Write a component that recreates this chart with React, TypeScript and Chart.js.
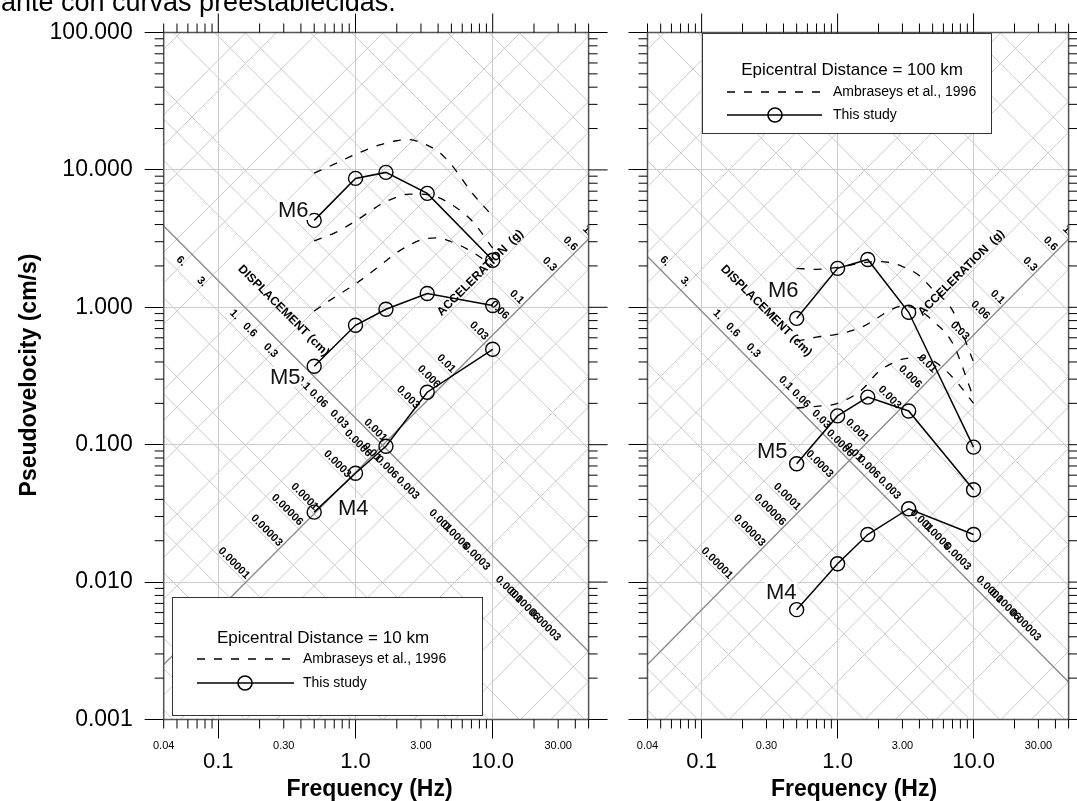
import React, { useEffect, useRef } from "react";
import { Chart, registerables } from "chart.js";

Chart.register(...registerables);

const FONT = '"Liberation Sans", Arial, Helvetica, sans-serif';

// ---------------- data ----------------
// frequencies (Hz)
const studyFreqs = [0.5, 1.0, 1.667, 3.333, 10.0];
const ambraseysFreqs = [0.5, 0.7, 1.0, 1.5, 2.0, 2.5, 3.0, 4.0, 5.0, 7.0, 10.0];

// Epicentral distance = 10 km, pseudovelocity (cm/s)
const study10_M6 = [4.29, 8.67, 9.59, 6.75, 2.2];
const study10_M5 = [0.372, 0.74, 0.967, 1.26, 1.03];
const study10_M4 = [0.0323, 0.062, 0.0975, 0.241, 0.495];
const ambraseys10_upper = [9.46, 11.0, 13.0, 15.2, 16.3, 16.6, 15.8, 13.6, 10.9, 6.9, 4.6];
const ambraseys10_middle = [3.04, 3.47, 4.24, 5.55, 6.34, 6.67, 6.67, 6.3, 5.6, 4.3, 2.7];
const ambraseys10_lower = [0.94, 1.18, 1.48, 2.0, 2.5, 2.85, 3.1, 3.2, 3.0, 2.55, 2.0];

// Epicentral distance = 100 km, pseudovelocity (cm/s)
const study100_M6 = [0.83, 1.92, 2.23, 0.92, 0.096];
const study100_M5 = [0.0726, 0.162, 0.222, 0.176, 0.047];
const study100_M4 = [0.0063, 0.0136, 0.0222, 0.0342, 0.0222];
const ambraseys100_upper = [1.92, 1.89, 1.95, 2.1, 2.15, 2.1, 1.98, 1.7, 1.35, 0.95, 0.4];
const ambraseys100_middle = [0.567, 0.606, 0.637, 0.716, 0.846, 0.967, 1.02, 0.95, 0.8, 0.55, 0.22];
const ambraseys100_lower = [0.185, 0.19, 0.2, 0.25, 0.34, 0.39, 0.42, 0.43, 0.41, 0.31, 0.2];

// ticks / labels
const yTickValues = [0.001, 0.01, 0.1, 1, 10, 100];
const xMajorTickValues = [0.1, 1, 10];
const xSmallLabelValues = [0.04, 0.3, 3, 30];
const xSmallLabelTexts = ["0.04", "0.30", "3.00", "30.00"];
const gridMantissas = [1, 3, 6];
const displacementLabels = ["6.", "3.", "1.", "0.6", "0.3", "0.1", "0.06", "0.03", "0.01", "0.006", "0.003", "0.001", "0.0006", "0.0003", "0.0001", "0.00006", "0.00003"];
const accelerationLabels = ["0.00001", "0.00003", "0.00006", "0.0001", "0.0003", "0.0006", "0.001", "0.003", "0.006", "0.01", "0.03", "0.06", "0.1", "0.3", "0.6", "1."];
const magnitudeLabels = ["M6", "M5", "M4"];

const G_CM = 981;
const TWO_PI = 2 * Math.PI;
const ACCEL_AXIS_DISP = 0.01; // cm
const DISP_LABEL_ACCEL = 0.00077; // g
const DISP_TITLE_AT = [0.299, 0.943];
const ACC_TITLE_AT = [8.13, 1.78];

const PAGE_H = 801;
const AREA_TOP = 32.5;
const AREA_BOTTOM = 719.5;

const panels = [
  {
    key: "d10",
    canvasLeft: 0,
    canvasWidth: 620,
    areaLeft: 163.7,
    areaRight: 588.6,
    showYLabels: true,
    dispAxisAccel: 0.001,
    study: [study10_M6, study10_M5, study10_M4],
    amb: [ambraseys10_upper, ambraseys10_middle, ambraseys10_lower],
    legendTitle: "Epicentral Distance = 10 km",
    legendBox: [172, 597, 310, 118],
    legendRows: [638, 659, 683],
    legendLineX: [197, 294],
    legendCircleX: 245,
    legendTextX: 303,
    legendTitleX: 323,
    mLabelPos: [[278, 210], [270, 377], [338, 508]],
    xTitleX: 369.5,
  },
  {
    key: "d100",
    canvasLeft: 620,
    canvasWidth: 457,
    areaLeft: 647.5,
    areaRight: 1072.5,
    showYLabels: false,
    dispAxisAccel: 0.0006,
    study: [study100_M6, study100_M5, study100_M4],
    amb: [ambraseys100_upper, ambraseys100_middle, ambraseys100_lower],
    legendTitle: "Epicentral Distance = 100 km",
    legendBox: [702, 33, 289, 100],
    legendRows: [70, 92, 115],
    legendLineX: [727, 822],
    legendCircleX: 775,
    legendTextX: 833,
    legendTitleX: 852,
    mLabelPos: [[768, 290], [757, 451], [766, 592]],
    xTitleX: 854,
  },
];

function seg(ctx: any, x1: number, y1: number, x2: number, y2: number) {
  ctx.beginPath();
  ctx.moveTo(x1, y1);
  ctx.lineTo(x2, y2);
  ctx.stroke();
}

function minorValues(eFrom: number, eTo: number, lo: number, hi: number) {
  const out: number[] = [];
  for (let e = eFrom; e <= eTo; e++) {
    for (let m = 2; m <= 9; m++) {
      const v = m * Math.pow(10, e);
      if (v >= lo * 0.999 && v <= hi * 1.001) out.push(v);
    }
  }
  return out;
}

function makePlugin(cfg: any) {
  return {
    id: "tripartite_" + cfg.key,
    beforeDatasetsDraw(chart: any) {
      const { ctx, chartArea: a } = chart;
      const xs = chart.scales.x;
      const ys = chart.scales.y;
      const X = (f: number) => xs.getPixelForValue(f);
      const Y = (v: number) => ys.getPixelForValue(v);
      const fMin = xs.min;
      const fMax = xs.max;
      const dLine = (D: number) => seg(ctx, X(fMin), Y(TWO_PI * fMin * D), X(fMax), Y(TWO_PI * fMax * D));
      const aLine = (A: number) => seg(ctx, X(fMin), Y((A * G_CM) / (TWO_PI * fMin)), X(fMax), Y((A * G_CM) / (TWO_PI * fMax)));

      ctx.save();
      ctx.beginPath();
      ctx.rect(a.left, a.top, a.right - a.left, a.bottom - a.top);
      ctx.clip();

      // tripartite background grid
      ctx.strokeStyle = "#cbcbcb";
      ctx.lineWidth = 1;
      for (let e = -9; e <= 4; e++) {
        for (const m of gridMantissas) {
          const v = m * Math.pow(10, e);
          dLine(v);
          aLine(v);
        }
      }
      // label axes
      ctx.strokeStyle = "#8a8a8a";
      ctx.lineWidth = 1.3;
      aLine(cfg.dispAxisAccel);
      dLine(ACCEL_AXIS_DISP);

      ctx.fillStyle = "#000";
      ctx.font = `bold 11px ${FONT}`;
      displacementLabels.forEach((t) => {
        const D = parseFloat(t);
        const w = Math.sqrt((DISP_LABEL_ACCEL * G_CM) / D);
        const px = X(w / TWO_PI) - 3;
        const py = Y(Math.sqrt(DISP_LABEL_ACCEL * G_CM * D)) - 1;
        ctx.save();
        ctx.translate(px, py);
        ctx.rotate(Math.PI / 4);
        ctx.textAlign = "center";
        ctx.textBaseline = "middle";
        ctx.fillText(t, 0, 0);
        ctx.restore();
      });
      accelerationLabels.forEach((t) => {
        const A = parseFloat(t);
        const w = Math.sqrt((A * G_CM) / ACCEL_AXIS_DISP);
        const px = X(w / TWO_PI);
        const py = Y(Math.sqrt(A * G_CM * ACCEL_AXIS_DISP));
        ctx.save();
        ctx.translate(px, py);
        ctx.rotate(Math.PI / 4);
        ctx.textAlign = "right";
        ctx.textBaseline = "alphabetic";
        ctx.fillText(t, -2, -2.5);
        ctx.restore();
      });

      ctx.font = `bold 12px ${FONT}`;
      ctx.textAlign = "center";
      ctx.textBaseline = "middle";
      ctx.save();
      ctx.translate(X(DISP_TITLE_AT[0]), Y(DISP_TITLE_AT[1]));
      ctx.rotate(Math.PI / 4);
      ctx.fillText("DISPLACEMENT (cm)", 0, 0);
      ctx.restore();
      ctx.save();
      ctx.translate(X(ACC_TITLE_AT[0]), Y(ACC_TITLE_AT[1]));
      ctx.rotate(-Math.PI / 4);
      ctx.fillText("ACCELERATION  (g)", 0, 0);
      ctx.restore();

      ctx.restore();
    },
    afterDatasetsDraw(chart: any) {
      const { ctx, chartArea: a } = chart;
      const xs = chart.scales.x;
      const ys = chart.scales.y;
      const X = (f: number) => xs.getPixelForValue(f);
      const Y = (v: number) => ys.getPixelForValue(v);

      // page-coordinate annotations
      ctx.save();
      ctx.translate(-cfg.canvasLeft, 0);

      // magnitude labels
      ctx.font = `22px ${FONT}`;
      ctx.textAlign = "left";
      ctx.textBaseline = "middle";
      magnitudeLabels.forEach((t, i) => {
        const [lx, ly] = cfg.mLabelPos[i];
        const w = ctx.measureText(t).width;
        ctx.fillStyle = "#fff";
        ctx.fillRect(lx - 1, ly - 10, w + 2, 20);
        ctx.fillStyle = "#111";
        ctx.fillText(t, lx, ly + 1);
      });

      // legend
      const [bx, by, bw, bh] = cfg.legendBox;
      ctx.fillStyle = "#fff";
      ctx.fillRect(bx, by, bw, bh);
      ctx.strokeStyle = "#333";
      ctx.lineWidth = 1;
      ctx.strokeRect(bx + 0.5, by + 0.5, bw, bh);
      ctx.fillStyle = "#000";
      ctx.font = `17px ${FONT}`;
      ctx.textAlign = "center";
      ctx.fillText(cfg.legendTitle, cfg.legendTitleX, cfg.legendRows[0]);
      ctx.strokeStyle = "#000";
      ctx.lineWidth = 1.4;
      ctx.setLineDash([8, 9]);
      seg(ctx, cfg.legendLineX[0], cfg.legendRows[1], cfg.legendLineX[1], cfg.legendRows[1]);
      ctx.setLineDash([]);
      ctx.lineWidth = 1.6;
      seg(ctx, cfg.legendLineX[0], cfg.legendRows[2], cfg.legendLineX[1], cfg.legendRows[2]);
      ctx.beginPath();
      ctx.arc(cfg.legendCircleX, cfg.legendRows[2], 7, 0, Math.PI * 2);
      ctx.stroke();
      ctx.font = `14px ${FONT}`;
      ctx.textAlign = "left";
      ctx.fillText("Ambraseys et al., 1996", cfg.legendTextX, cfg.legendRows[1]);
      ctx.fillText("This study", cfg.legendTextX, cfg.legendRows[2]);

      // axis titles
      ctx.font = `bold 23px ${FONT}`;
      ctx.textAlign = "center";
      ctx.fillText("Frequency (Hz)", cfg.xTitleX, 790);
      if (cfg.showYLabels) {
        ctx.save();
        ctx.translate(30, 375);
        ctx.rotate(-Math.PI / 2);
        ctx.font = `bold 23px ${FONT}`;
        ctx.fillText("Pseudovelocity (cm/s)", 0, 0);
        ctx.restore();
        ctx.font = `27px ${FONT}`;
        ctx.textAlign = "left";
        ctx.textBaseline = "alphabetic";
        ctx.fillText("ante con curvas preestablecidas.", 1, 11);
      }
      ctx.restore();

      // frame
      ctx.save();
      ctx.strokeStyle = "#555";
      ctx.lineWidth = 1.5;
      ctx.strokeRect(a.left, a.top, a.right - a.left, a.bottom - a.top);

      // ticks
      ctx.strokeStyle = "#000";
      ctx.lineWidth = 1;
      const xMinor = minorValues(-2, 1, xs.min, xs.max);
      xMinor.forEach((v) => {
        const p = X(v);
        seg(ctx, p, a.top, p, a.top - 9);
        seg(ctx, p, a.bottom, p, a.bottom + 9);
      });
      xMajorTickValues.forEach((v) => {
        const p = X(v);
        seg(ctx, p, a.top, p, a.top - 19);
      });
      const yMinor = minorValues(-3, 1, ys.min, ys.max);
      yMinor.forEach((v) => {
        const p = Y(v);
        seg(ctx, a.left - 9, p, a.left, p);
        seg(ctx, a.right, p, a.right + 9, p);
      });
      yTickValues.forEach((v) => {
        const p = Y(v);
        seg(ctx, a.right, p, a.right + 19, p);
      });

      // small frequency labels
      ctx.fillStyle = "#000";
      ctx.font = `11px ${FONT}`;
      ctx.textAlign = "center";
      ctx.textBaseline = "middle";
      xSmallLabelValues.forEach((v, i) => {
        ctx.fillText(xSmallLabelTexts[i], X(v), a.bottom + 26.5);
      });
      ctx.restore();
    },
  };
}

function buildDatasets(cfg: any) {
  const ds: any[] = [];
  cfg.amb.forEach((arr: number[]) => {
    ds.push({
      data: ambraseysFreqs.map((f, i) => ({ x: f, y: arr[i] })),
      showLine: true,
      borderColor: "#000",
      borderWidth: 1.3,
      borderDash: [8, 9],
      pointRadius: 0,
      cubicInterpolationMode: "monotone",
      fill: false,
    });
  });
  cfg.study.forEach((arr: number[]) => {
    ds.push({
      data: studyFreqs.map((f, i) => ({ x: f, y: arr[i] })),
      showLine: true,
      borderColor: "#000",
      borderWidth: 1.5,
      pointRadius: 7,
      pointHoverRadius: 7,
      pointBorderWidth: 1.4,
      pointBorderColor: "#000",
      pointBackgroundColor: "rgba(0,0,0,0)",
      tension: 0,
      fill: false,
    });
  });
  return ds;
}

function Panel({ cfg }: { cfg: any }) {
  const ref = useRef<HTMLCanvasElement>(null);
  useEffect(() => {
    const canvas = ref.current;
    if (!canvas) return;
    const chart = new Chart(canvas, {
      type: "scatter",
      data: { datasets: buildDatasets(cfg) },
      options: {
        responsive: false,
        animation: false,
        devicePixelRatio: 1,
        layout: {
          padding: {
            left: 0,
            top: AREA_TOP,
            right: cfg.canvasLeft + cfg.canvasWidth - cfg.areaRight,
            bottom: 0,
          },
        },
        plugins: { legend: { display: false }, tooltip: { enabled: false } },
        scales: {
          x: {
            type: "logarithmic",
            position: "bottom",
            min: 0.04,
            max: 50,
            afterBuildTicks: (s: any) => {
              s.ticks = xMajorTickValues.map((value) => ({ value }));
            },
            afterFit: (s: any) => {
              s.height = PAGE_H - AREA_BOTTOM;
            },
            grid: {
              color: "#cbcbcb",
              lineWidth: 1,
              tickColor: "#000",
              tickLength: 19,
              drawTicks: true,
            },
            border: { display: false },
            ticks: {
              autoSkip: false,
              maxRotation: 0,
              padding: 10,
              color: "#000",
              font: { family: FONT, size: 22 },
              callback: (v: any) => Number(v).toFixed(1),
            },
          },
          y: {
            type: "logarithmic",
            position: "left",
            min: 0.001,
            max: 100,
            afterBuildTicks: (s: any) => {
              s.ticks = yTickValues.map((value) => ({ value }));
            },
            afterFit: (s: any) => {
              s.width = cfg.areaLeft - cfg.canvasLeft;
            },
            grid: {
              color: "#cbcbcb",
              lineWidth: 1,
              tickColor: "#000",
              tickLength: 19,
              drawTicks: true,
            },
            border: { display: false },
            ticks: {
              display: cfg.showYLabels,
              autoSkip: false,
              padding: 12,
              color: "#000",
              font: { family: FONT, size: 23 },
              callback: (v: any) => Number(v).toFixed(3),
            },
          },
        },
      },
      plugins: [makePlugin(cfg)],
    } as any);
    return () => chart.destroy();
  }, []);
  return (
    <canvas
      ref={ref}
      width={cfg.canvasWidth}
      height={PAGE_H}
      style={{ position: "absolute", left: cfg.canvasLeft, top: 0, width: cfg.canvasWidth, height: PAGE_H }}
    />
  );
}

export default function App() {
  return (
    <div style={{ position: "fixed", left: 0, top: 0, width: 1077, height: PAGE_H, background: "#fff", overflow: "hidden" }}>
      {panels.map((p) => (
        <Panel key={p.key} cfg={p} />
      ))}
    </div>
  );
}
